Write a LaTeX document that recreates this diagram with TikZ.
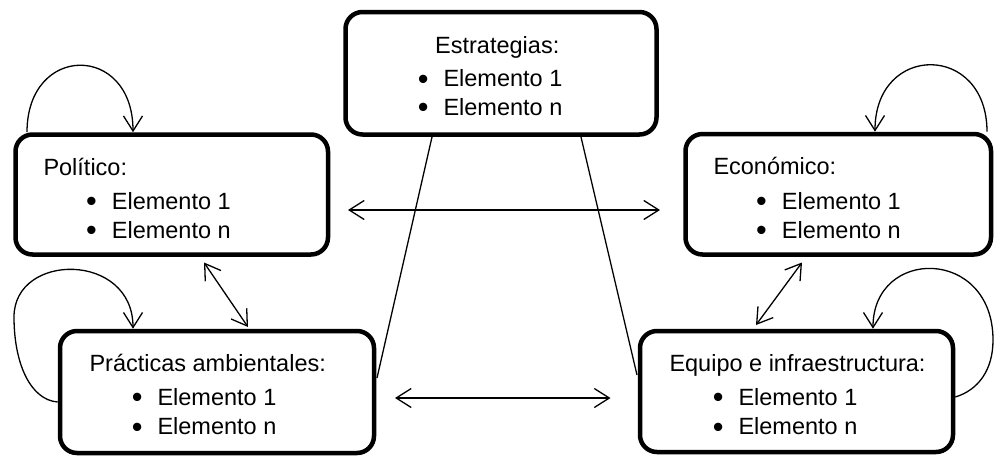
\documentclass[tikz,border=0pt]{standalone}
\usepackage{fontspec}
\setmainfont{Liberation Sans}
\usetikzlibrary{arrows.meta,calc}

% one bullet line: the bullet hangs to the left of the item text
\newcommand{\bulletline}[1]{\llap{\raisebox{-2.6pt}{\scalebox{1.3}{\textbullet}}\hspace{15pt}}#1}

\begin{document}
\begin{tikzpicture}[x=1pt,y=-1pt,
  box/.style={draw,line width=4.5pt,rounded corners=17pt,inner sep=0pt,outer sep=0pt},
  txt/.style={anchor=base west,inner sep=0pt,font=\fontsize{23.5}{29}\selectfont},
  link/.style={line width=1.3pt},
  tip/.style={line width=1.3pt,-{Straight Barb[length=15pt,width=19pt]}},
  both/.style={line width=1.3pt,{Straight Barb[length=15pt,width=19pt]}-{Straight Barb[length=15pt,width=19pt]}}]
\useasboundingbox (0,0) rectangle (996,458);

% boxes
\node[box,minimum width=311pt,minimum height=122.5pt] (est) at (501,73.25) {};
\node[box,minimum width=312.5pt,minimum height=120pt] (pol) at (171.75,194.5) {};
\node[box,minimum width=305.5pt,minimum height=120.5pt] (eco) at (838.25,194.25) {};
\node[box,minimum width=314pt,minimum height=122pt] (pra) at (217,392) {};
\node[box,minimum width=313pt,minimum height=121pt] (equ) at (796.5,391.5) {};

% texts
\node[txt] (est-h) at (435,53.3) {Estrategias:};
\node[txt] (est-1) at (443.3,86.7) {\bulletline{Elemento 1}};
\node[txt] (est-n) at (443.3,115) {\bulletline{Elemento n}};

\node[txt] (pol-h) at (43.3,175) {Político:};
\node[txt] (pol-1) at (111.7,209) {\bulletline{Elemento 1}};
\node[txt] (pol-n) at (111.7,238) {\bulletline{Elemento n}};

\node[txt] (eco-h) at (713.3,174) {Económico:};
\node[txt] (eco-1) at (781.7,209) {\bulletline{Elemento 1}};
\node[txt] (eco-n) at (781.7,238) {\bulletline{Elemento n}};

\node[txt] (pra-h) at (89.3,371.7) {Prácticas ambientales:};
\node[txt] (pra-1) at (157.3,405) {\bulletline{Elemento 1}};
\node[txt] (pra-n) at (157.3,434.5) {\bulletline{Elemento n}};

\node[txt] (equ-h) at (669.3,371.7) {Equipo e infraestructura:};
\node[txt] (equ-1) at (738.3,405) {\bulletline{Elemento 1}};
\node[txt] (equ-n) at (738.3,434.5) {\bulletline{Elemento n}};

% self loops
\draw[tip] ($(pol.north west)+(11.5,-2.3)$) .. controls +(0,-89) and +(0,-89) .. ($(pol.north west)+(117.5,-2.3)$);
\draw[tip] ($(eco.north east)+(-4,-2.3)$) .. controls +(0,-89) and +(0,-89) .. ($(eco.north west)+(189.5,-2.3)$);
\draw[tip] ($(pra.west)+(-2.3,10)$) .. controls +(-27,-2) and +(0,47) .. ($(pra.west)+(-46,-75)$)
  .. controls +(0,-65) and +(0,-77) .. ($(pra.north west)+(73,-2.3)$);
\draw[tip] ($(equ.east)+(2.3,5.5)$) .. controls +(23,-7) and +(0,30) .. ($(equ.east)+(40,-51.5)$)
  .. controls +(0,-93) and +(0,-82) .. ($(equ.north west)+(233,-2.3)$);

% two-way links
\draw[both] ($(pol.south west)+(188.5,8)$) -- ($(pra.north west)+(188,-4)$);
\draw[both] ($(eco.south west)+(116.5,8)$) -- ($(equ.north west)+(116,-6)$);
\draw[both] ($(pol.east)+(20,15.5)$) -- ($(eco.west)+(-25.5,15.75)$);
\draw[both] ($(pra.east)+(21,6)$) -- ($(equ.west)+(-29.5,6.5)$);

% plain links from the strategies box
\draw[link] ($(est.south west)+(86.5,2.5)$) -- ($(pra.north east)+(3,47)$);
\draw[link] ($(est.south west)+(235.5,2.5)$) -- ($(equ.north west)+(-3,44)$);
\end{tikzpicture}
\end{document}
